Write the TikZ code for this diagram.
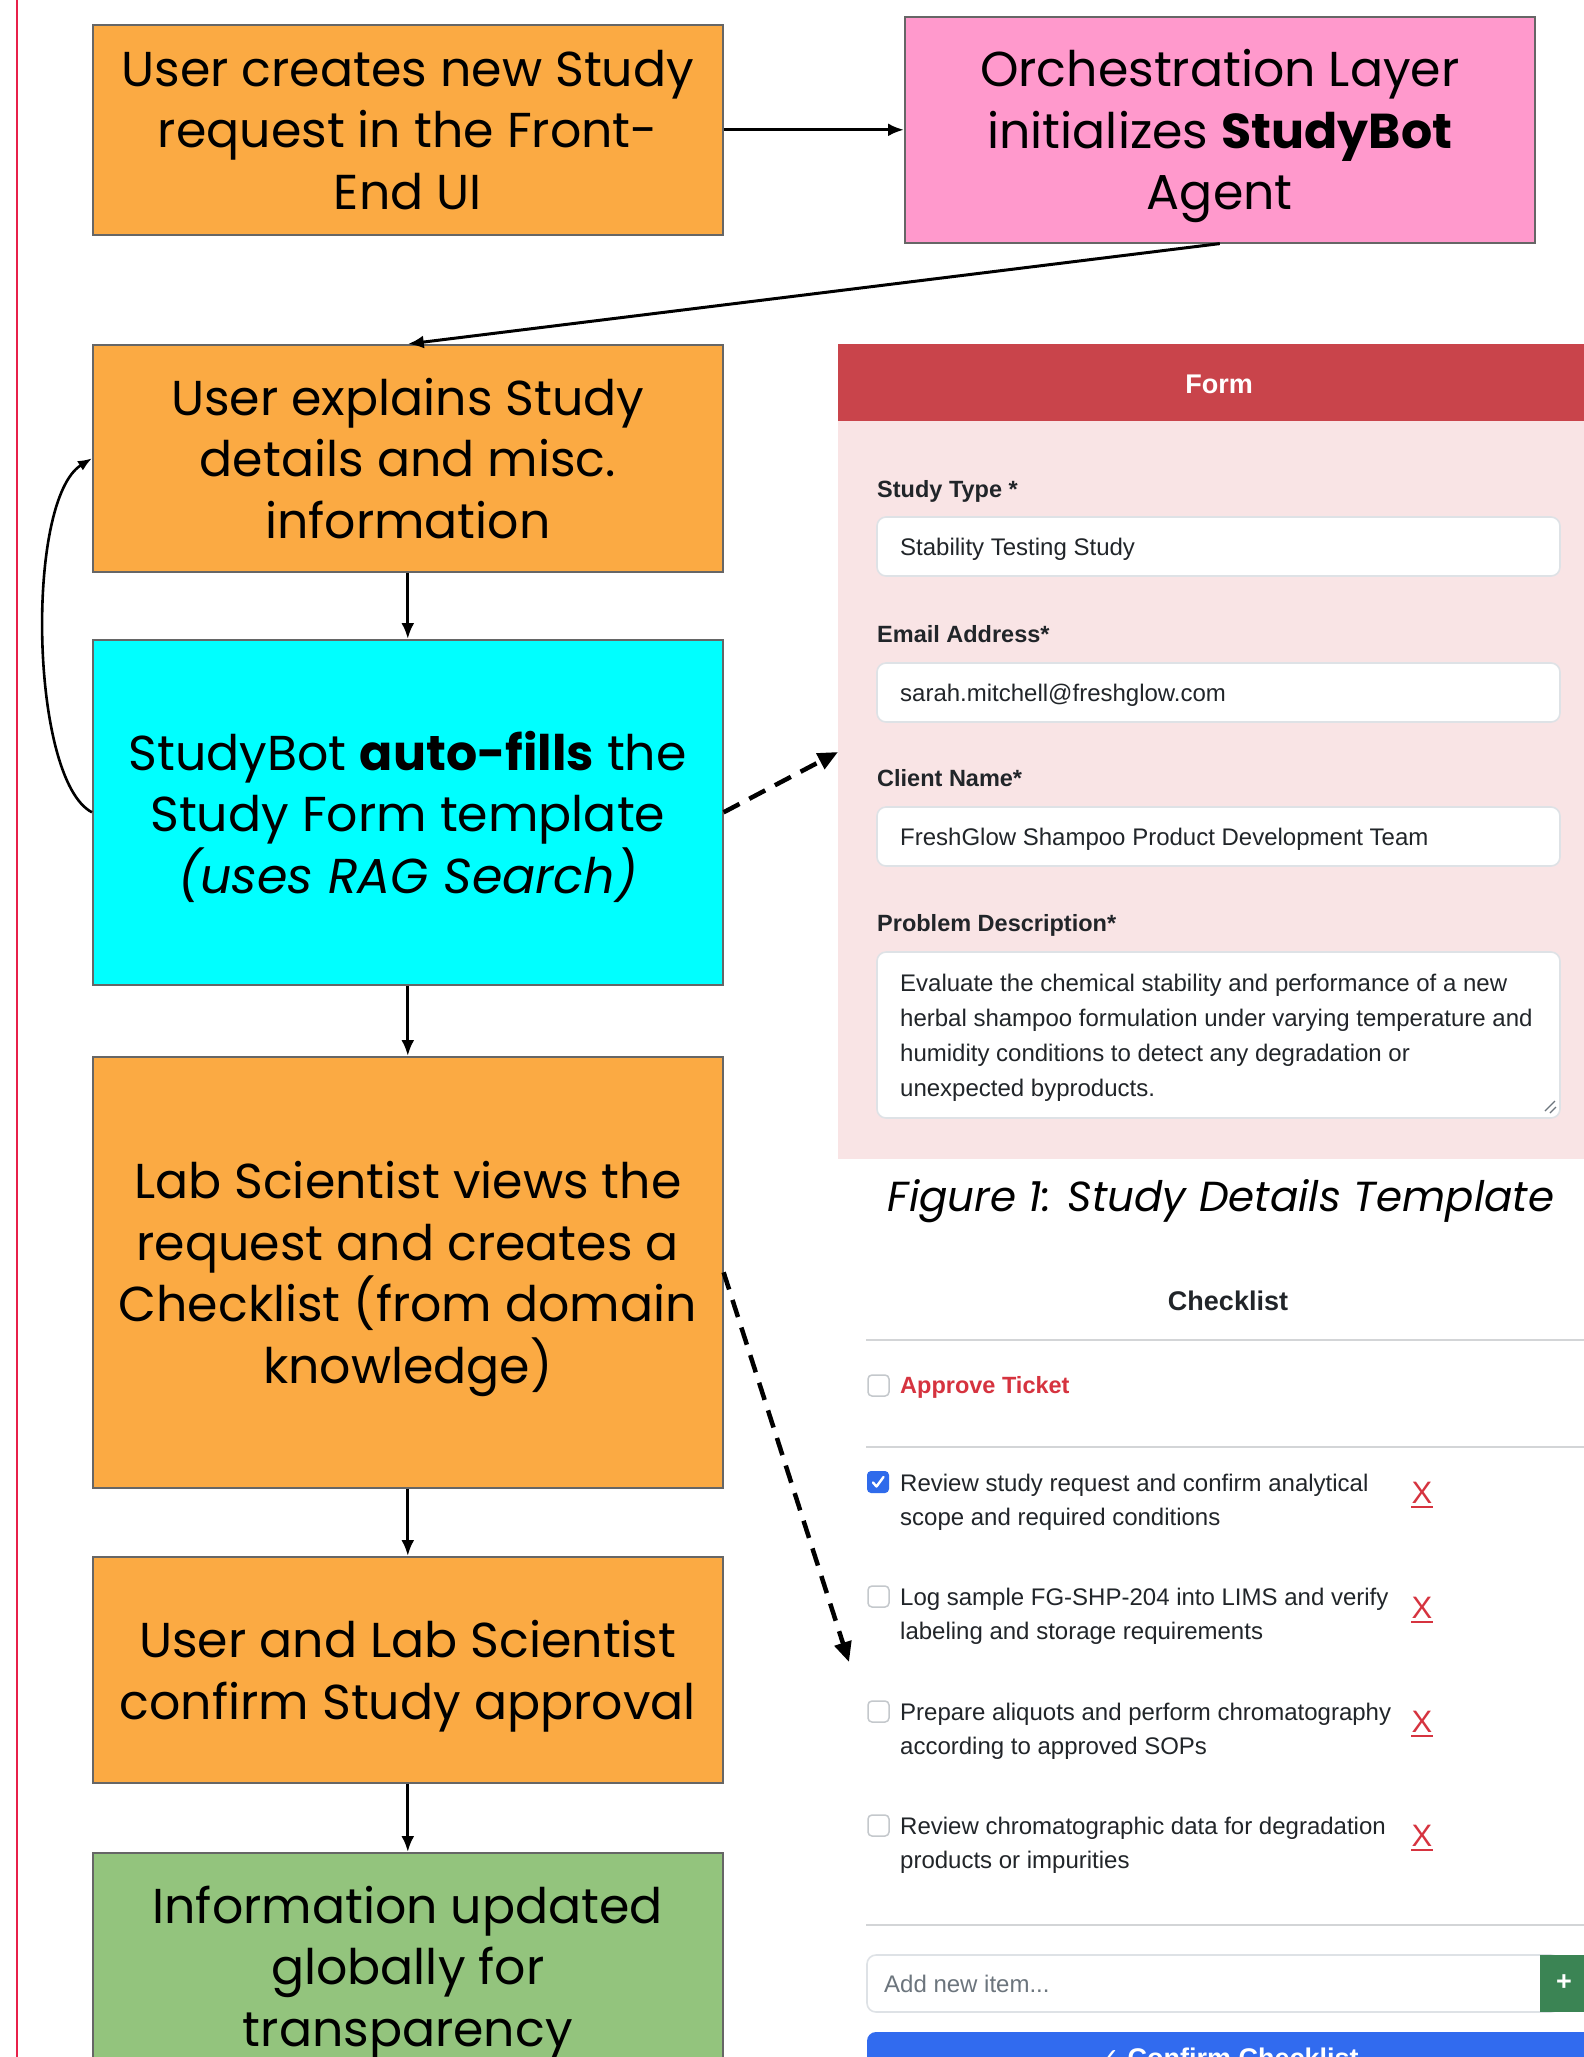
\documentclass[tikz,border=0pt]{standalone}
\usepackage{fontspec}
\setmainfont{Poppins}
\newfontfamily\uifont{Liberation Sans}
\newfontfamily\symfont{DejaVu Sans}
\usetikzlibrary{arrows.meta}
\definecolor{orangebox}{HTML}{FBAA43}
\definecolor{pinkbox}{HTML}{FF99CC}
\definecolor{cyanbox}{HTML}{00FFFF}
\definecolor{greenbox}{HTML}{93C47D}
\definecolor{boxline}{HTML}{666666}
\definecolor{redrule}{HTML}{E8204A}
\definecolor{formhead}{HTML}{C9444B}
\definecolor{formbody}{HTML}{F9E4E5}
\definecolor{fieldline}{HTML}{DEE2E6}
\definecolor{uitext}{HTML}{212529}
\definecolor{cbline}{HTML}{C4C8CC}
\definecolor{cbblue}{HTML}{2F6BEB}
\definecolor{xred}{HTML}{D6333F}
\definecolor{sepline}{HTML}{D3D5D7}
\definecolor{placeholder}{HTML}{6C757D}
\definecolor{greenbtn}{HTML}{3B8454}
\definecolor{bluebtn}{HTML}{316BEF}
\newcommand{\nodepth}[1]{\raisebox{0pt}[\height][0pt]{#1}}
\begin{document}
\begin{tikzpicture}[x=1pt,y=-1pt,
  flow/.style={draw=boxline, line width=1.6pt, inner sep=0pt, minimum width=630pt, align=center, anchor=north west, font=\fontsize{49}{61.5}\selectfont},
  conn/.style={line width=3pt, -{Latex[length=16pt,width=13pt]}},
  cconn/.style={line width=2.6pt, -{Latex[length=14pt,width=11pt]}},
  dconn/.style={line width=4.5pt, dash pattern=on 18pt off 11pt, -{Triangle[length=20pt,width=17pt]}},
  ui/.style={font=\uifont\fontsize{24}{35}\selectfont, text=uitext, anchor=base west, inner sep=0pt},
  uib/.style={ui, font=\uifont\bfseries\fontsize{23.5}{35}\selectfont},
  field/.style={draw=fieldline, line width=1.6pt, fill=white, rounded corners=9pt},
  cbox/.style={draw=cbline, line width=1.5pt, fill=white, rounded corners=4pt},
  xmark/.style={font=\uifont\fontsize{31}{31}\selectfont, text=xred, anchor=base, inner sep=0pt},
  sepl/.style={draw=sepline, line width=2.2pt}
]
\useasboundingbox (0,0) rectangle (1584,2057);
\clip (0,0) rectangle (1584,2057);
\fill[white] (0,0) rectangle (1584,2057);
% left rule
\draw[redrule, line width=2pt] (17,0) -- (17,2057);

% flow boxes
\node[flow, fill=orangebox, minimum height=210pt] (b1) at (92,24) {User creates new Study\\request in the Front-\\End UI};
\node[flow, fill=pinkbox, minimum height=226pt] (b2) at (904,16) {Orchestration Layer\\initializes \textbf{StudyBot}\\\nodepth{Agent}};
\node[flow, fill=orangebox, minimum height=227pt] (b3) at (92,344) {User explains Study\\details and misc.\\information};
\node[flow, fill=cyanbox, minimum height=345pt] (b4) at (92,639) {StudyBot \textbf{auto-fills} the\\Study Form template\\\nodepth{\textit{(uses RAG Search)}}};
\node[flow, fill=orangebox, minimum height=431pt] (b5) at (92,1056) {Lab Scientist views the\\request and creates a\\Checklist (from domain\\\nodepth{knowledge)}};
\node[flow, fill=orangebox, minimum height=226pt] (b6) at (92,1556) {User and Lab Scientist\\\nodepth{confirm Study approval}};
\node[flow, fill=greenbox, minimum height=226pt] (b7) at (92,1852) {Information updated\\globally for\\\nodepth{transparency}};

% form panel
\fill[formbody] (838,421) rectangle (1600,1159);
\fill[formhead] (838,344) rectangle (1600,421);
\node[font=\uifont\bfseries\fontsize{27}{32}\selectfont, text=white, anchor=base, inner sep=0pt] (formtitle) at (1219,393) {Form};

\node[uib] (l1) at (877,497.5) {Study Type *};
\draw[field] (877,517) rectangle (1560,576);
\node[ui] (v1) at (900,555.5) {Stability Testing Study};

\node[uib] (l2) at (877,642.5) {Email Address*};
\draw[field] (877,663) rectangle (1560,722);
\node[ui] (v2) at (900,701.5) {sarah.mitchell@freshglow.com};

\node[uib] (l3) at (877,786.5) {Client Name*};
\draw[field] (877,807) rectangle (1560,866);
\node[ui] (v3) at (900,845.5) {FreshGlow Shampoo Product Development Team};

\node[uib] (l4) at (877,931.5) {Problem Description*};
\draw[field] (877,952) rectangle (1560,1118);
\node[ui] (d1) at (900,991.5) {Evaluate the chemical stability and performance of a new};
\node[ui] (d2) at (900,1026) {herbal shampoo formulation under varying temperature and};
\node[ui] (d3) at (900,1061) {humidity conditions to detect any degradation or};
\node[ui] (d4) at (900,1096) {unexpected byproducts.};
\draw[placeholder, line width=1.2pt] (1555,1101) -- (1545,1111);
\draw[placeholder, line width=1.2pt] (1556,1107) -- (1550,1113);

\node[font=\itshape\fontsize{42}{44}\selectfont, anchor=base, inner sep=0pt] (cap) at (1221,1211) {Figure 1: Study Details Template};

% checklist
\node[font=\uifont\bfseries\fontsize{27}{32}\selectfont, text=uitext, anchor=base, inner sep=0pt] (cltitle) at (1228,1310) {Checklist};
\draw[sepl] (866,1340) -- (1584,1340);
\draw[cbox] (868,1375) rectangle (889,1396);
\node[uib, text=xred] (appr) at (900,1393) {Approve Ticket};
\draw[sepl] (866,1447) -- (1584,1447);

\fill[cbblue, rounded corners=4pt] (867,1471) rectangle (889,1493);
\draw[white, line width=2.4pt, line cap=round, line join=round] (873,1482.5) -- (876.5,1486.5) -- (883.5,1477);
\node[ui] (i1a) at (900,1491) {Review study request and confirm analytical};
\node[ui] (i1b) at (900,1525) {scope and required conditions};
\node[xmark] (x1) at (1422,1503) {X};
\draw[xred, line width=2pt] (1411,1507) -- (1433,1507);

\draw[cbox] (868,1586) rectangle (889,1607);
\node[ui] (i2a) at (900,1605) {Log sample FG-SHP-204 into LIMS and verify};
\node[ui] (i2b) at (900,1639) {labeling and storage requirements};
\node[xmark] (x2) at (1422,1618) {X};
\draw[xred, line width=2pt] (1411,1622) -- (1433,1622);

\draw[cbox] (868,1701) rectangle (889,1722);
\node[ui] (i3a) at (900,1720) {Prepare aliquots and perform chromatography};
\node[ui] (i3b) at (900,1754) {according to approved SOPs};
\node[xmark] (x3) at (1422,1732) {X};
\draw[xred, line width=2pt] (1411,1736) -- (1433,1736);

\draw[cbox] (868,1815) rectangle (889,1836);
\node[ui] (i4a) at (900,1834) {Review chromatographic data for degradation};
\node[ui] (i4b) at (900,1868) {products or impurities};
\node[xmark] (x4) at (1422,1846) {X};
\draw[xred, line width=2pt] (1411,1850) -- (1433,1850);

\draw[sepl] (866,1925) -- (1584,1925);

\draw[field] (867,1955) rectangle (1560,2012);
\fill[greenbtn] (1540,1955) rectangle (1600,2012);
\node[ui, text=placeholder] (addtxt) at (884,1992) {Add new item...};
\node[font=\uifont\bfseries\fontsize{27}{30}\selectfont, text=white, inner sep=0pt] (plus) at (1564,1983) {+};

\fill[bluebtn, rounded corners=9pt] (867,2032) rectangle (1610,2100);
\node[font=\uifont\bfseries\fontsize{27}{32}\selectfont, text=white, anchor=base, inner sep=0pt] (confirm) at (1228,2067) {{\symfont ✓} Confirm Checklist};

% connectors
\draw[conn] (b1) -- (b2);
\draw[conn] (b2.south) -- (b3.north);
\draw[conn] (b3) -- (b4);
\draw[conn] (b4) -- (b5);
\draw[conn] (b5) -- (b6);
\draw[conn] (b6) -- (b7);
\draw[cconn] (b4.west) .. controls (30,780) and (25,500) .. (b3.west);
\coordinate (formin) at (838,752);
\coordinate (chkin) at (849,1662);
\draw[dconn] (b4.east) -- (formin);
\draw[dconn] (b5.east) -- (chkin);
\end{tikzpicture}
\end{document}
